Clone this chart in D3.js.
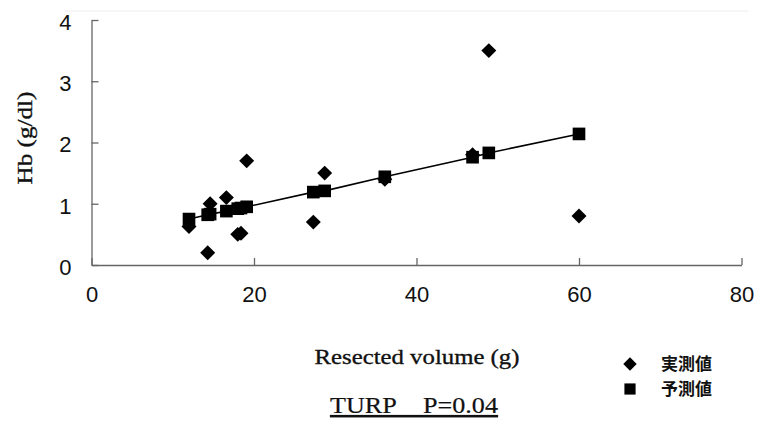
<!DOCTYPE html>
<html lang="ja">
<head>
<meta charset="UTF-8">
<script src="https://d3js.org/d3.v7.min.js"></script>
<style>
  body { margin: 0; background: #fff; }
  .axis path, .axis line { stroke: #666; stroke-width: 1.3; }
  .axis text { font-family: "Liberation Sans", Arial, sans-serif; font-size: 22px; fill: #111; }
  .title { font-family: "Liberation Serif", "Times New Roman", serif; fill: #111; stroke: #111; stroke-width: 0.35px; }
  .legend text { font-family: "Noto Sans CJK JP", sans-serif; font-size: 17px; font-weight: bold; fill: #111; }
</style>
</head>
<body>
<svg class="chart"></svg>
<script>

// resected volume (g) for each case
const volume    = [12.0, 14.3, 14.6, 16.6, 18.0, 18.4, 19.1, 27.3, 28.7, 36.1, 46.9, 48.9, 60.0]
// measured Hb drop (実測値)
const measured  = [0.63, 0.20, 1.00, 1.10, 0.50, 0.52, 1.70, 0.70, 1.50, 1.40, 1.80, 3.50, 0.80]
// predicted Hb drop (予測値)
const predicted = [0.75, 0.82, 0.83, 0.88, 0.92, 0.93, 0.95, 1.19, 1.21, 1.44, 1.76, 1.83, 2.14]

const xTicks = [0, 20, 40, 60, 80]
const yTicks = [0, 1, 2, 3, 4]
const legendLabels = ['実測値', '予測値']

let margin = {top: 20, right: 15.5, bottom: 156, left: 91.5},
    width = 757 - margin.left - margin.right,
    height = 421 - margin.top - margin.bottom;

let svg = d3.select(".chart")
    .attr("width", 757)
    .attr("height", 421)

let chart = svg.append("g")
    .attr("transform", `translate(${margin.left},${margin.top})`);

let x = d3.scaleLinear().domain([0, 80]).range([0, width]);
let y = d3.scaleLinear().domain([0, 4]).range([height, 0]);

// faint scan line at the top of the plot
svg.append("line")
    .attr("x1", 65).attr("x2", 748)
    .attr("y1", 11).attr("y2", 11)
    .style("stroke", "#eee")

// axes, ticks point inwards like the original
chart.append("g")
    .attr("class", "x axis")
    .attr("transform", `translate(0,${height})`)
    .call(d3.axisBottom(x).tickValues(xTicks).tickFormat(d3.format("d"))
        .tickSizeInner(-7).tickSizeOuter(0).tickPadding(21))

chart.append("g")
    .attr("class", "y axis")
    .call(d3.axisLeft(y).tickValues(yTicks).tickFormat(d3.format("d"))
        .tickSizeInner(-7).tickSizeOuter(0).tickPadding(20))
  .selectAll("text")
    .attr("dy", "0.42em")

let pts = volume.map((v, i) => ({v: v, m: measured[i], p: predicted[i]}))

// regression line through predicted values
let line = d3.line()
    .x(d => x(d.v))
    .y(d => y(d.p))

chart.append("path")
    .datum(pts)
    .attr("d", line)
    .style("fill", "none")
    .style("stroke", "#000")
    .style("stroke-width", 1.6)

const diamond = d3.symbol(d3.symbolSquare, 112)
const square = d3.symbol(d3.symbolSquare, 160)

chart.selectAll(".measured")
  .data(pts)
  .join("path")
    .attr("class", "measured")
    .attr("d", diamond)
    .attr("transform", d => `translate(${x(d.v)},${y(d.m)}) rotate(45)`)
    .style("fill", "#000")

chart.selectAll(".predicted")
  .data(pts)
  .join("path")
    .attr("class", "predicted")
    .attr("d", square)
    .attr("transform", d => `translate(${x(d.v)},${y(d.p)})`)
    .style("fill", "#000")

// titles
svg.append("text")
    .attr("class", "title")
    .attr("transform", `translate(32,138) rotate(-90)`)
    .attr("text-anchor", "middle")
    .attr("textLength", 93)
    .attr("lengthAdjust", "spacingAndGlyphs")
    .style("font-size", "22px")
    .text("Hb (g/dl)")

svg.append("text")
    .attr("class", "title")
    .attr("x", 417)
    .attr("y", 364)
    .attr("text-anchor", "middle")
    .attr("textLength", 205)
    .attr("lengthAdjust", "spacingAndGlyphs")
    .style("font-size", "22px")
    .text("Resected volume (g)")

svg.append("text")
    .attr("class", "title")
    .attr("x", 414)
    .attr("y", 413)
    .attr("text-anchor", "middle")
    .attr("textLength", 168)
    .attr("lengthAdjust", "spacingAndGlyphs")
    .style("font-size", "23px")
    .style("stroke-width", "0.2px")
    .style("text-decoration", "underline")
    .text("TURP\u00a0\u00a0\u00a0\u00a0P=0.04")

// legend
let legend = svg.append("g")
    .attr("class", "legend")
    .attr("transform", "translate(630,364)")

let item = legend.selectAll("g")
  .data(legendLabels)
  .join("g")
    .attr("transform", (d, i) => `translate(0,${i * 25})`)

item.append("path")
    .attr("d", (d, i) => i == 0 ? d3.symbol(d3.symbolSquare, 90)() : d3.symbol(d3.symbolSquare, 125)())
    .attr("transform", (d, i) => i == 0 ? "rotate(45)" : "")
    .style("fill", "#000")

item.append("text")
    .attr("x", 31)
    .attr("y", 6)
    .text(d => d)

</script>
</body>
</html>
